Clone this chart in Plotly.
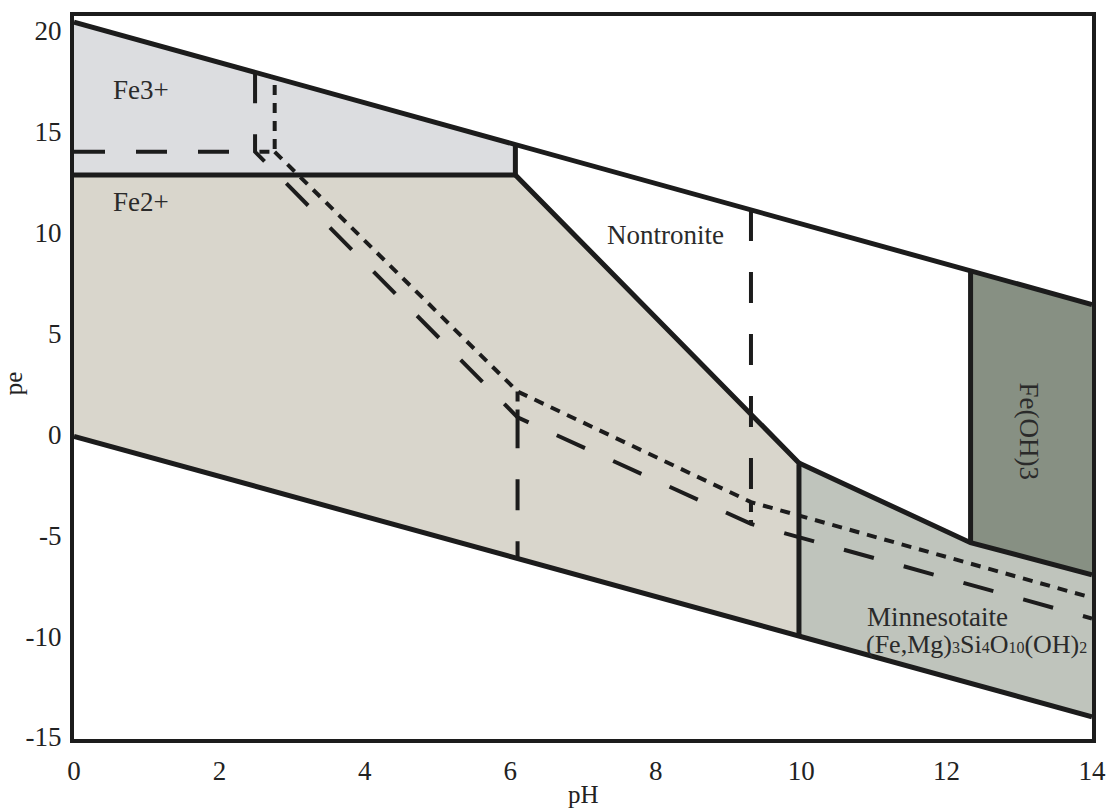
import plotly.graph_objects as go

# pe–pH stability diagram for the Fe–Si–Mg–H2O system

# water stability limits (pH, pe)
upper_water_ph = [0.0, 14.0]
upper_water_pe = [20.43, 6.43]
lower_water_ph = [0.0, 14.0]
lower_water_pe = [-0.1, -14.0]

# field polygons (pH, pe)
fe3_ph = [0.0, 0.0, 6.07, 6.07]
fe3_pe = [12.85, 20.43, 14.36, 12.85]
fe2_ph = [0.0, 6.07, 9.97, 9.97, 0.0]
fe2_pe = [12.85, 12.85, -1.42, -10.0, -0.1]
minn_ph = [9.97, 12.33, 14.0, 14.0, 9.97]
minn_pe = [-1.42, -5.37, -6.96, -14.0, -10.0]
feoh3_ph = [12.33, 14.0, 14.0, 12.33]
feoh3_pe = [8.1, 6.43, -6.96, -5.37]

# internal field boundaries
bound_fe_ph = [0.0, 6.07, 6.07]
bound_fe_pe = [12.85, 12.85, 14.36]
bound_non_ph = [6.07, 9.97, 9.97]
bound_non_pe = [12.85, -1.42, -10.0]
bound_min_ph = [9.97, 12.33, 14.0]
bound_min_pe = [-1.42, -5.37, -6.96]
bound_feoh_ph = [12.33, 12.33]
bound_feoh_pe = [8.1, -5.37]

# dashed boundaries
dash_a_ph = [0.0, 2.49]
dash_a_pe = [14.0, 14.0]
dash_b_ph = [2.49, 2.49, 6.1, 9.31, 14.0]
dash_b_pe = [17.94, 14.0, 0.84, -4.44, -9.13]
dash_c_ph = [6.1, 6.1]
dash_c_pe = [0.84, -6.1]
dash_d_ph = [9.31, 9.31]
dash_d_pe = [11.12, -4.44]

# dotted boundaries
dot_a_ph = [2.55, 2.76, 2.76]
dot_a_pe = [14.0, 14.0, 17.67]
dot_b_ph = [2.76, 6.1, 9.31, 14.0]
dot_b_pe = [14.0, 2.12, -3.36, -8.1]
dot_c_ph = [6.1, 6.1]
dot_c_pe = [2.12, 0.84]
dot_d_ph = [9.31, 9.31]
dot_d_pe = [-3.36, -4.44]

x_ticks = [0, 2, 4, 6, 8, 10, 12, 14]
x_tick_text = ["0", "2", "4", "6", "8", "10", "12", "14"]
y_ticks = [-15, -10, -5, 0, 5, 10, 15, 20]
y_tick_text = ["-15", "-10", "-5", "0", "5", "10", "15", "20"]

FONT = "Liberation Serif"
INK = "#1c1c1c"
fig = go.Figure()

fields = [
    (fe3_ph, fe3_pe, "#dcdde0"),
    (fe2_ph, fe2_pe, "#d9d6cc"),
    (minn_ph, minn_pe, "#bfc4bc"),
    (feoh3_ph, feoh3_pe, "#879083"),
]
for xs, ys, col in fields:
    fig.add_trace(go.Scatter(x=xs, y=ys, fill="toself", fillcolor=col,
                             mode="lines", line=dict(width=0),
                             hoverinfo="skip", showlegend=False))

def add_line(xs, ys, width, dash="solid"):
    fig.add_trace(go.Scatter(x=xs, y=ys, mode="lines",
                             line=dict(color=INK, width=width, dash=dash),
                             hoverinfo="skip", showlegend=False))

for xs, ys in [(dot_a_ph, dot_a_pe), (dot_b_ph, dot_b_pe),
               (dot_c_ph, dot_c_pe), (dot_d_ph, dot_d_pe)]:
    add_line(xs, ys, 4, "10px,8px")

for xs, ys in [(dash_a_ph, dash_a_pe), (dash_b_ph, dash_b_pe),
               (dash_c_ph, dash_c_pe), (dash_d_ph, dash_d_pe)]:
    add_line(xs, ys, 4, "31px,31px")

for xs, ys in [(upper_water_ph, upper_water_pe), (lower_water_ph, lower_water_pe),
               (bound_fe_ph, bound_fe_pe), (bound_non_ph, bound_non_pe),
               (bound_min_ph, bound_min_pe), (bound_feoh_ph, bound_feoh_pe)]:
    add_line(xs, ys, 5)

def small(s):
    return f"<span style='font-size:16px'>{s}</span>"

formula = f"(Fe,Mg){small('3')}Si{small('4')}O{small('10')}(OH){small('2')}"

labels = [
    (0.92, 17.08, "Fe3+", "center", 0, 27),
    (0.92, 11.5, "Fe2+", "center", 0, 27),
    (8.13, 9.87, "Nontronite", "center", 0, 27),
    (10.88, -9.03, "Minnesotaite", "left", 0, 27),
    (10.86, -10.4, formula, "left", 0, 26),
    (13.13, 0.15, "Fe(OH)3", "center", 90, 27),
]
for x, y, t, xa, ang, sz in labels:
    fig.add_annotation(x=x, y=y, xref="x", yref="y", text=t, showarrow=False,
                       xanchor=xa, yanchor="middle", textangle=ang,
                       font=dict(family=FONT, size=sz, color="#2a2a2a"))

fig.add_annotation(x=0.5, y=-0.077, xref="paper", yref="paper", text="pH",
                   showarrow=False, xanchor="center", yanchor="middle",
                   font=dict(family=FONT, size=25, color="#222"))
fig.add_annotation(x=-0.06, y=0.492, xref="paper", yref="paper", text="pe",
                   showarrow=False, xanchor="center", yanchor="middle", textangle=-90,
                   font=dict(family=FONT, size=25, color="#222"))

axis_common = dict(showgrid=False, zeroline=False, showline=True, mirror=True,
                   linecolor=INK, linewidth=4, ticks="",
                   tickfont=dict(family=FONT, size=27, color="#222"))
fig.update_xaxes(range=[0, 14], tickvals=x_ticks, ticktext=x_tick_text,
                 ticklabelstandoff=5, **axis_common)
fig.update_yaxes(range=[-15.1, 20.73], tickvals=y_ticks, ticktext=y_tick_text,
                 ticklabelstandoff=3, **axis_common)

fig.update_layout(width=1118, height=808, margin=dict(l=74, r=25, t=13, b=69),
                  font=dict(family=FONT, size=25, color="#222"),
                  plot_bgcolor="white", paper_bgcolor="white")

fig.write_html("out.html")
